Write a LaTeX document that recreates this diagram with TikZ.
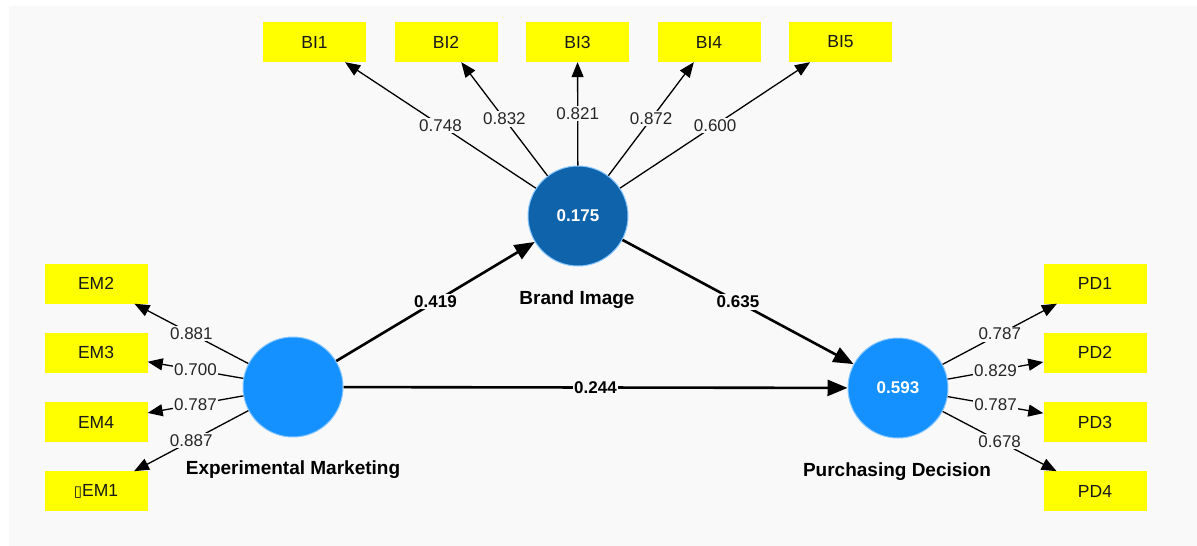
\documentclass[tikz,border=0pt]{standalone}
\usepackage{fontspec}
\setmainfont{Liberation Sans}
\newfontfamily\dejavu{DejaVu Sans}
\usetikzlibrary{arrows.meta}

\definecolor{bgGray}{RGB}{249,249,249}
\definecolor{lvBlue}{RGB}{20,144,255}
\definecolor{lvDark}{RGB}{14,99,170}
\definecolor{mvYellow}{RGB}{255,255,0}

\begin{document}
\begin{tikzpicture}[x=1pt,y=-1pt,>={Triangle[length=15pt,width=12pt]},node distance=131.5pt,
		mv node/.style={rectangle,fill=mvYellow,minimum width=103pt,minimum height=40pt,inner sep=0pt,text=black!90,font=\fontsize{17.5}{20}\selectfont},
		lv node/.style={circle,fill=lvBlue,draw=lvBlue!50!white,line width=1pt,minimum size=100pt,inner sep=0pt,text=white,font=\bfseries\fontsize{17}{20}\selectfont},
		lv name/.style={font=\bfseries\fontsize{19}{22}\selectfont},
		load/.style={->,line width=1.3pt},
		struct/.style={->,line width=2.6pt,>={Triangle[length=20pt,width=16pt]}},
		wt/.style={fill=bgGray,inner sep=1.5pt,text=black!85,font=\fontsize{17}{20}\selectfont},
		pwt/.style={fill=bgGray,inner sep=1.5pt,font=\bfseries\fontsize{17}{20}\selectfont}]
		\useasboundingbox (0,0) rectangle (1197,546);
		\fill[bgGray] (9,6) rectangle (1197,546);
		% latent variables
		\node[lv node] (em) at (293,387) {};
		\node[lv node,fill=lvDark] (bi) at (578,216) {0.175};
		\node[lv node] (pd) at (898,388) {0.593};
		\node[lv name] at (293,470) {Experimental Marketing};
		\node[lv name] at (577,300) {Brand Image};
		\node[lv name] at (897,472) {Purchasing Decision};
		% indicators
		\node[mv node] (bi1) at (314.5,42) {BI1};
		\node[mv node] (bi2) [right of=bi1] {BI2};
		\node[mv node] (bi3) [right of=bi2] {BI3};
		\node[mv node] (bi4) [right of=bi3] {BI4};
		\node[mv node] (bi5) [right of=bi4] {BI5};
		\begin{scope}[node distance=69.3pt]
		\node[mv node] (em2) at (96,283.5) {EM2};
		\node[mv node] (em3) [below of=em2] {EM3};
		\node[mv node] (em4) [below of=em3] {EM4};
		\node[mv node] (em1) [below of=em4] {{\dejavu\fontsize{15}{17}\selectfont ▯}EM1};
		\node[mv node] (pd1) at (1095,283.5) {PD1};
		\node[mv node] (pd2) [below of=pd1] {PD2};
		\node[mv node] (pd3) [below of=pd2] {PD3};
		\node[mv node] (pd4) [below of=pd3] {PD4};
		\end{scope}
		% outer loadings
		\path[load]
		(bi) edge node[wt] {0.748} (bi1)
		(bi) edge node[wt] {0.832} (bi2)
		(bi) edge node[wt] {0.821} (bi3)
		(bi) edge node[wt] {0.872} (bi4)
		(bi) edge node[wt] {0.600} (bi5)
		(em) edge node[wt] {0.881} (em2)
		(em) edge node[wt] {0.700} (em3)
		(em) edge node[wt] {0.787} (em4)
		(em) edge node[wt] {0.887} (em1)
		(pd) edge node[wt] {0.787} (pd1)
		(pd) edge node[wt] {0.829} (pd2)
		(pd) edge node[wt] {0.787} (pd3)
		(pd) edge node[wt] {0.678} (pd4);
		% path coefficients
		\path[struct]
		(em) edge node[pwt] {0.419} (bi)
		(bi) edge node[pwt] {0.635} (pd)
		(em) edge node[pwt] {0.244} (pd);
\end{tikzpicture}
\end{document}
